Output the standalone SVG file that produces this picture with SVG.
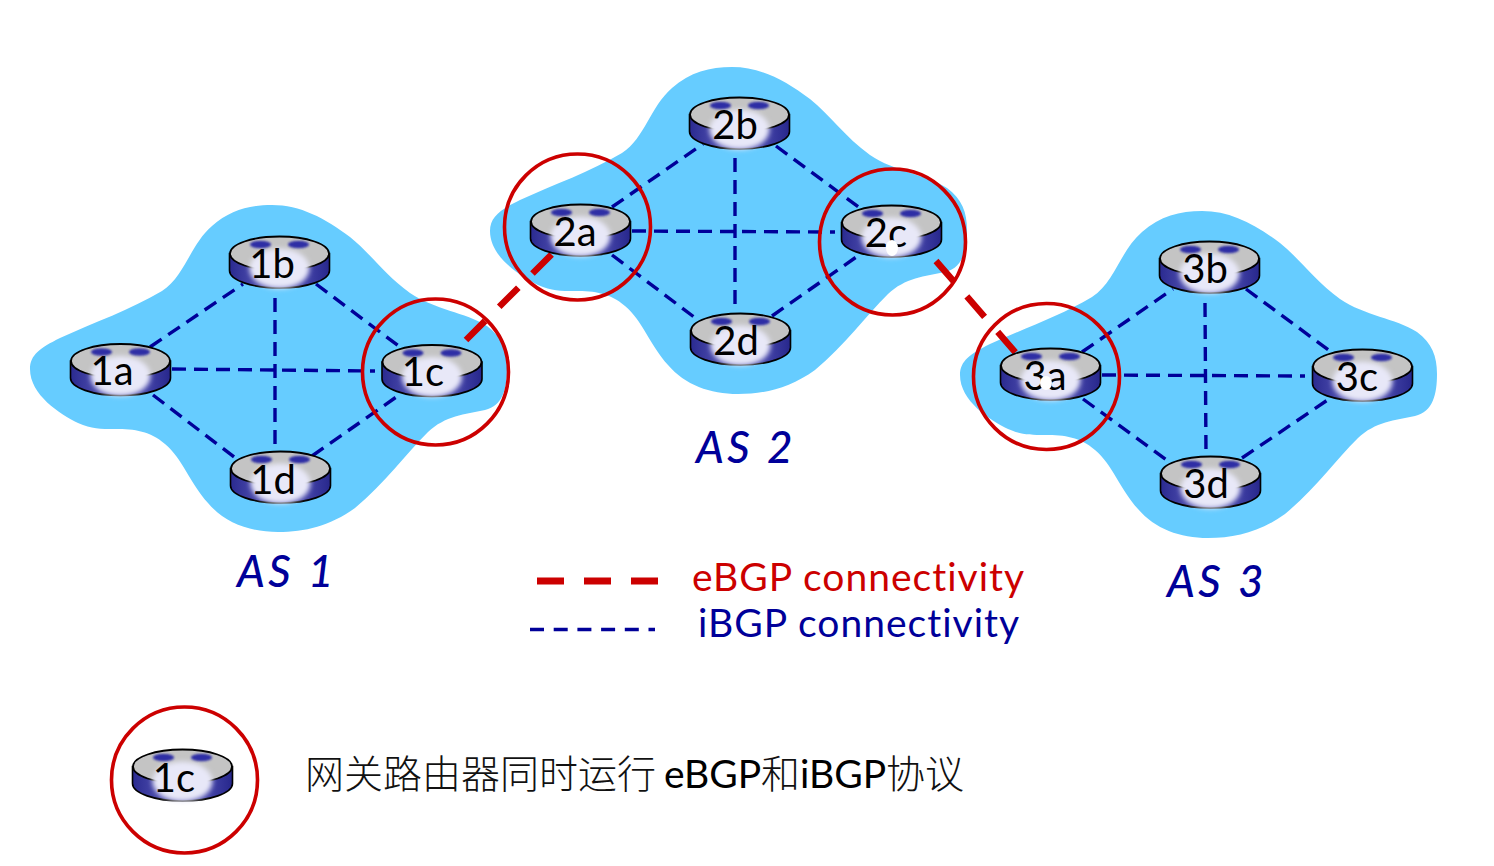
<svg xmlns="http://www.w3.org/2000/svg" xmlns:xlink="http://www.w3.org/1999/xlink" width="1494" height="866" viewBox="0 0 1494 866">
<style>
.blob{fill:#66ccff}
.ib{fill:none;stroke:#000099;stroke-width:3.4;stroke-dasharray:14 8}
.eb{fill:none;stroke:#cc0000;stroke-width:6.5;stroke-dasharray:27 20}
.ring{fill:none;stroke:#cc0000;stroke-width:3.6}
.lab{font-family:"Lato","Open Sans",sans-serif;font-size:40px;fill:#000;text-anchor:middle;font-weight:400}
.as{font-family:"Lato","Open Sans",sans-serif;font-style:italic;font-size:44px;fill:#000099;font-weight:500;letter-spacing:3.6px}
.leg{font-family:"Lato","Open Sans",sans-serif;font-size:39px;font-weight:400;letter-spacing:1px}
.cn{font-family:"Noto Sans CJK SC","Noto Sans CJK JP",sans-serif;font-size:39px;font-weight:300;fill:#111}
.la{font-family:"Lato","Open Sans",sans-serif;font-size:39px;font-weight:400;fill:#000}
.blem{fill:#fff}
</style>
<defs>
<linearGradient id="side" x1="0" x2="1" y1="0" y2="0">
<stop offset="0" stop-color="#2a2a90"/><stop offset=".3" stop-color="#5050b0"/><stop offset=".7" stop-color="#4a4aae"/><stop offset="1" stop-color="#27278c"/>
</linearGradient>
<filter id="soft" x="-30%" y="-30%" width="160%" height="160%"><feGaussianBlur stdDeviation="2.500"/></filter>
<filter id="soft2" x="-30%" y="-60%" width="160%" height="220%"><feGaussianBlur stdDeviation="0.800"/></filter>
<path id="cloud" d="M30 369C30 355 40 348 60 338C95 322 130 310 162 291C185 276 190 245 212 226C230 210 250 205 272 205C300 205 325 218 350 237C370 253 385 275 410 293C435 310 465 312 487 326C502 337 507 350 507 368C507 388 503 406 485 410C465 414 445 416 428 432C405 455 385 483 355 508C330 526 305 532 278 532C250 532 225 523 208 503C190 483 182 458 165 444C150 431 135 429 115 429C100 429 92 429 78 423C60 414 30 395 30 369Z"/>
<g id="router">
<path d="M0 17V34A50 17.500 0 0 0 100 34V17Z" fill="url(#side)" stroke="#000" stroke-width="1.600"/>
<ellipse cx="50" cy="17" rx="49.500" ry="17" fill="#c4c4c4" stroke="#000" stroke-width="1.800"/>
<ellipse cx="50" cy="32" rx="30" ry="20" fill="#e8e8f8" filter="url(#soft)"/>
<ellipse cx="31" cy="8" rx="10.500" ry="3.800" fill="#2f2fa5" filter="url(#soft2)"/>
<ellipse cx="69" cy="8" rx="10.500" ry="3.800" fill="#2f2fa5" filter="url(#soft2)"/>
</g>
</defs>
<g id="clouds">
<use xlink:href="#cloud" href="#cloud" class="blob"/>
<use xlink:href="#cloud" href="#cloud" class="blob" x="460" y="-138"/>
<use xlink:href="#cloud" href="#cloud" class="blob" x="930" y="6"/>
</g>
<g id="connectors">
<g id="ibgp-as1">
<path class="ib" d="M150 347L243 284"/><path class="ib" d="M316 284L400 347"/><path class="ib" d="M153 395L238 460"/><path class="ib" d="M312 456L402 393"/><path class="ib" d="M275 298V450"/><path class="ib" d="M172 369L375 371"/>
</g>
<g id="ibgp-as2">
<path class="ib" d="M612 207L703 144"/><path class="ib" d="M776 146L860 208"/><path class="ib" d="M612 255L698 320"/><path class="ib" d="M772 316L862 253"/><path class="ib" d="M735 158V312"/><path class="ib" d="M632 231L835 232"/>
</g>
<g id="ibgp-as3">
<path class="ib" d="M1082 352L1173 289"/><path class="ib" d="M1246 289L1330 351"/><path class="ib" d="M1083 399L1168 461"/><path class="ib" d="M1242 458L1332 397"/><path class="ib" d="M1205 303L1206 455"/><path class="ib" d="M1102 375L1305 376"/>
</g>
<path id="ebgp-1c-2a" class="eb" d="M466 340L552 254"/>
<path id="ebgp-2c-3a" class="eb" d="M936 261L1016 353"/>
</g>
<g id="node-1a"><use xlink:href="#router" href="#router" x="70.500" y="344"/><text class="lab" x="112" y="385">1a</text></g>
<g id="node-1b"><use xlink:href="#router" href="#router" x="229.500" y="236.500"/><text class="lab" x="272" y="278">1b</text></g>
<g id="node-1c"><use xlink:href="#router" href="#router" x="382" y="345"/><text class="lab" x="423" y="386">1c</text></g>
<g id="node-1d"><use xlink:href="#router" href="#router" x="230.500" y="451.500"/><text class="lab" x="273" y="494">1d</text></g>
<g id="node-2a"><use xlink:href="#router" href="#router" x="530.500" y="204.500"/><text class="lab" x="575" y="246">2a</text></g>
<g id="node-2b"><use xlink:href="#router" href="#router" x="689.500" y="97.500"/><text class="lab" x="735" y="139">2b</text></g>
<g id="node-2c"><use xlink:href="#router" href="#router" x="841.500" y="205.500"/><text class="lab" x="886" y="247">2c</text><ellipse class="blem" cx="892" cy="248" rx="6" ry="8"/></g>
<g id="node-2d"><use xlink:href="#router" href="#router" x="690.500" y="313.500"/><text class="lab" x="736" y="355">2d</text></g>
<g id="node-3a"><use xlink:href="#router" href="#router" x="1000.500" y="348.500"/><text class="lab" x="1045" y="390">3a</text><ellipse class="blem" cx="1046" cy="383" rx="6" ry="7"/></g>
<g id="node-3b"><use xlink:href="#router" href="#router" x="1159.500" y="241.500"/><text class="lab" x="1205" y="283">3b</text></g>
<g id="node-3c"><use xlink:href="#router" href="#router" x="1312.500" y="349.500"/><text class="lab" x="1357" y="391">3c</text></g>
<g id="node-3d"><use xlink:href="#router" href="#router" x="1160.500" y="456.500"/><text class="lab" x="1206" y="498">3d</text></g>
<circle class="ring" cx="435.500" cy="372" r="73"/>
<circle class="ring" cx="577.500" cy="227" r="73"/>
<circle class="ring" cx="892.500" cy="242" r="73"/>
<circle class="ring" cx="1046.500" cy="376.500" r="73"/>
<g id="as-labels">
<text class="as" x="237" y="587">AS 1</text>
<text class="as" x="696" y="463">AS 2</text>
<text class="as" x="1167" y="597">AS 3</text>
</g>
<g id="legend">
<path d="M537 581H658" fill="none" stroke="#cc0000" stroke-width="7" stroke-dasharray="27 20"/>
<path d="M530 629.500H655" fill="none" stroke="#000099" stroke-width="3.400" stroke-dasharray="14 9.700"/>
<text class="leg" x="692" y="591" fill="#cc0000">eBGP connectivity</text>
<text class="leg" x="698" y="637" fill="#000099">iBGP connectivity</text>
</g>
<g id="note">
<circle class="ring" cx="184.500" cy="780" r="73"/>
<g id="node-key"><use xlink:href="#router" href="#router" x="132.500" y="749.500"/><text class="lab" x="174" y="792">1c</text></g>
<text class="cn" y="788"><tspan x="305">网关路由器同时运行</tspan><tspan class="la" x="664">eBGP</tspan><tspan x="761">和</tspan><tspan class="la" x="800">iBGP</tspan><tspan x="886">协议</tspan></text>
</g>
</svg>
